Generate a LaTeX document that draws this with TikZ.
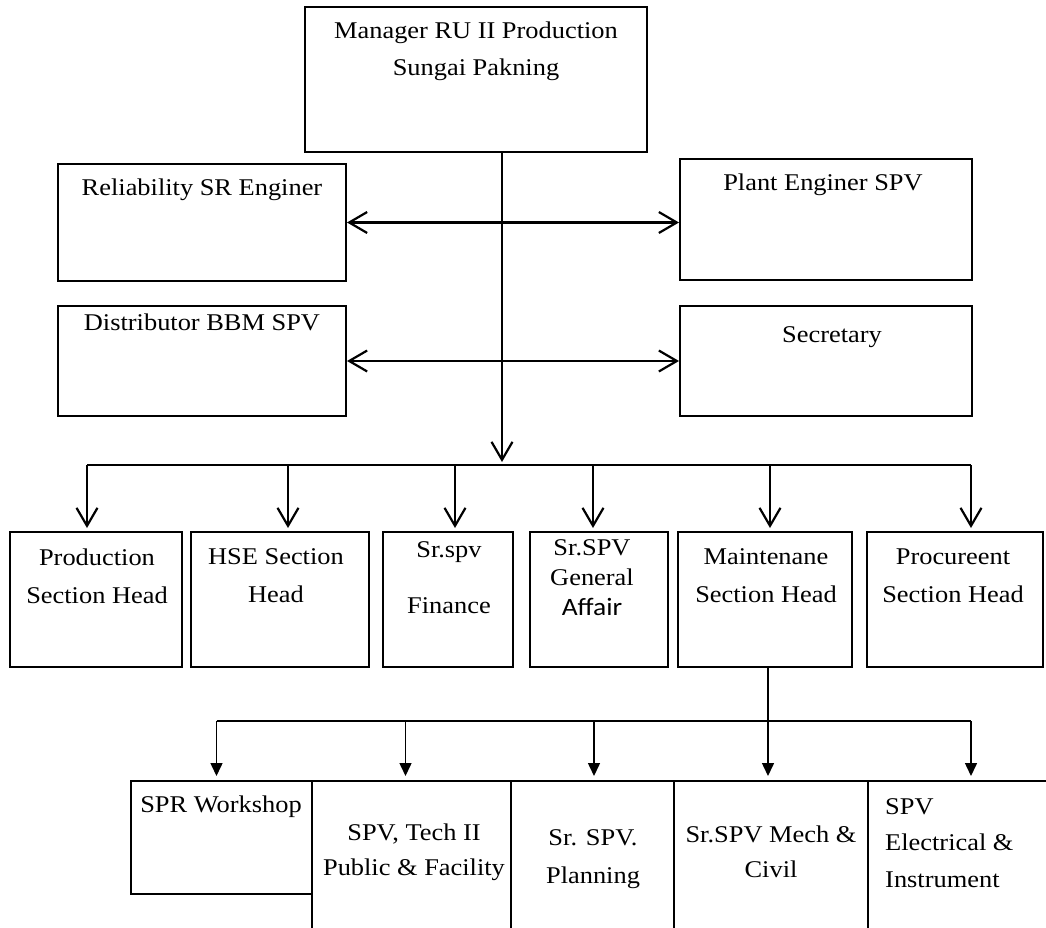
\documentclass[tikz,border=0pt]{standalone}
\usepackage{fontspec}
\setmainfont{Liberation Serif}[FakeStretch=1.1]
\newfontfamily\calib{Carlito}[FakeStretch=1.1]
\usetikzlibrary{arrows.meta}
\begin{document}
\begin{tikzpicture}[x=1pt,y=-1pt,
  box/.style={draw, line width=2pt, rectangle, inner sep=0pt},
  lbl/.style={inner sep=0pt, align=center, font=\fontsize{24}{38}\selectfont},
  link/.style={line width=2.2pt},
  barb/.style={link, -{Straight Barb[length=18pt,width=21pt]}},
  dbarb/.style={link, {Straight Barb[length=18pt,width=21pt]}-{Straight Barb[length=18pt,width=21pt]}},
  thin/.style={line width=1.5pt},
  tri/.style={thin, -{Triangle[length=13pt,width=12pt]}}]
\useasboundingbox (0,0) rectangle (1046,928);
\clip (0,0) rectangle (1046,928);
\fill[white] (0,0) rectangle (1046,928);

% top level
\node[box, minimum width=342pt, minimum height=145pt] (manager) at (476,79.5) {};
\node[lbl, font=\fontsize{24}{37}\selectfont] (manager-t) at (476,51.5) {Manager RU II Production\\Sungai Pakning};

\node[box, minimum width=288pt, minimum height=117pt] (rel) at (202,222.5) {};
\node[lbl] (rel-t) at (202,190) {Reliability SR Enginer};
\node[box, minimum width=292pt, minimum height=121pt] (plant) at (826,219.5) {};
\node[lbl] (plant-t) at (823,185) {Plant Enginer SPV};
\node[box, minimum width=288pt, minimum height=110pt] (dist) at (202,361) {};
\node[lbl] (dist-t) at (202,322) {Distributor BBM SPV};
\node[box, minimum width=292pt, minimum height=110pt] (sec) at (826,361) {};
\node[lbl] (sec-t) at (832,337) {Secretary};

% section heads
\node[box, minimum width=172pt, minimum height=135pt] (prod) at (96,599.5) {};
\node[lbl] (prod-t) at (97,576) {Production\\Section Head};
\node[box, minimum width=178pt, minimum height=135pt] (hse) at (280,599.5) {};
\node[lbl] (hse-t) at (276,576) {HSE Section\\Head};
\node[box, minimum width=130pt, minimum height=135pt] (fin) at (448,599.5) {};
\node[lbl, font=\fontsize{24}{56}\selectfont] (fin-t) at (449,578) {Sr.spv\\Finance};
\node[box, minimum width=138pt, minimum height=135pt] (ga) at (599,599.5) {};
\node[lbl, font=\fontsize{24}{30}\selectfont] (ga-t) at (592,578) {Sr.SPV\\General\\{\calib\fontsize{25}{30}\selectfont Affair}};
\node[box, minimum width=174pt, minimum height=135pt] (maint) at (765,599.5) {};
\node[lbl] (maint-t) at (766,576) {Maintenane\\Section Head};
\node[box, minimum width=176pt, minimum height=135pt] (proc) at (955,599.5) {};
\node[lbl] (proc-t) at (953,576) {Procureent\\Section Head};

% bottom level
\node[box, minimum width=181pt, minimum height=113pt] (spr) at (221.5,837.5) {};
\node[lbl] (spr-t) at (221,807) {SPR Workshop};
\node[box, minimum width=199pt, minimum height=179pt] (tech) at (411.5,870.5) {};
\node[lbl, font=\fontsize{24}{35}\selectfont] (tech-t) at (414,852) {SPV, Tech II\\Public \& Facility};
\node[box, minimum width=163pt, minimum height=179pt] (plan) at (592.5,870.5) {};
\node[lbl] (plan-t) at (593,859) {Sr. SPV.\\Planning};
\node[box, minimum width=194pt, minimum height=179pt] (mech) at (771,870.5) {};
\node[lbl, font=\fontsize{24}{35}\selectfont] (mech-t) at (771,852) {Sr.SPV Mech \&\\Civil};
\node[box, minimum width=212pt, minimum height=179pt] (elec) at (974,870.5) {};
\node[lbl, align=left, anchor=west, font=\fontsize{24}{36.5}\selectfont] (elec-t) at (885,843) {SPV\\Electrical \&\\Instrument};

% connectors: manager level
\coordinate (hub) at (502,465);
\draw[barb] (manager.south -| hub) -- ([yshift=3pt]hub);
\draw[dbarb] (rel.east) -- (rel.east -| plant.west);
\draw[dbarb] (dist.east) -- (sec.west);

\coordinate (a1) at ([xshift=-9pt]prod.north);
\coordinate (a2) at ([xshift=8pt]hse.north);
\coordinate (a3) at ([xshift=7pt]fin.north);
\coordinate (a4) at ([xshift=-6pt]ga.north);
\coordinate (a5) at ([xshift=5pt]maint.north);
\coordinate (a6) at ([xshift=16pt]proc.north);
\draw[link] (a1 |- hub) -- (a6 |- hub);
\foreach \c in {a1,a2,a3,a4,a5,a6}
  \draw[barb] (\c |- hub) -- ([yshift=3pt]\c);

% connectors: maintenance level
\coordinate (m1) at ([xshift=3pt]maint.south);
\coordinate (hub2) at (768,721);
\coordinate (b1) at ([xshift=-5pt]spr.north);
\coordinate (b2) at ([xshift=-6pt]tech.north);
\coordinate (b3) at ([xshift=1.5pt]plan.north);
\coordinate (b5) at ([xshift=-3pt]elec.north);
\draw[tri] (m1) -- ([yshift=4pt]m1 |- mech.north);
\draw[thin] (b1 |- hub2) -- (b5 |- hub2);
\foreach \c in {b1,b2,b3,b5}
  \draw[tri] (\c |- hub2) -- ([yshift=4pt]\c);
\end{tikzpicture}
\end{document}
